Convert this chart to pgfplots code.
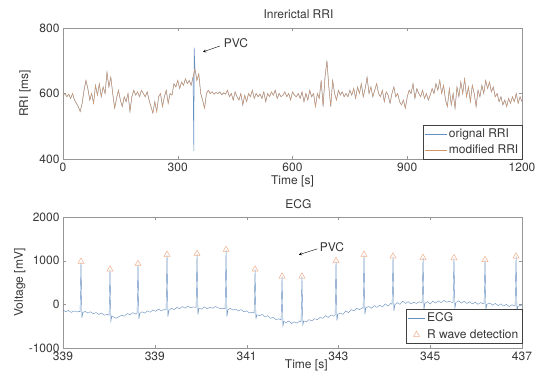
\documentclass[border=0pt]{standalone}
\usepackage{fontspec}
\setmainfont{TeX Gyre Heros}
\usepackage{pgfplots}
\pgfplotsset{compat=1.18}
\usepackage{pgfplotstable}
\definecolor{ecgblue}{RGB}{100,142,190}
\definecolor{rriorange}{RGB}{212,150,105}
\definecolor{trior}{RGB}{240,175,140}
\definecolor{axgray}{RGB}{150,150,150}
\definecolor{txgray}{RGB}{55,55,55}

\pgfplotstableread{
t rri
0 595
5 600
10 590
15 598
20 585
25 600
30 580
35 570
40 560
45 545
50 570
55 610
60 640
65 615
70 580
75 600
80 570
85 625
90 595
95 630
100 590
105 620
110 600
115 665
120 620
125 650
130 600
135 555
140 585
145 610
150 580
155 560
160 590
165 575
170 600
175 545
180 590
185 610
190 595
195 605
200 590
205 610
210 600
215 590
220 605
225 580
230 560
235 540
240 575
245 545
250 590
255 600
260 560
265 590
270 610
275 570
280 600
285 595
290 630
295 620
300 640
305 615
310 635
315 625
320 645
325 630
330 640
335 625
340 650
345 675
350 640
355 660
360 600
365 580
370 555
375 600
380 610
385 600
390 605
395 598
400 603
405 600
410 605
415 596
420 602
425 598
430 610
435 590
440 600
445 580
450 605
455 590
460 580
465 600
470 565
475 595
480 575
485 600
490 590
495 610
500 585
505 600
510 590
515 598
520 585
525 605
530 575
535 600
540 590
545 605
550 595
555 610
560 585
565 600
570 590
575 595
580 605
585 590
590 600
595 580
600 605
605 595
610 590
615 600
620 585
625 605
630 575
635 600
640 580
645 610
650 590
655 600
660 560
665 600
670 585
675 640
680 560
685 650
690 700
695 620
700 560
705 640
710 600
715 580
720 610
725 595
730 605
735 590
740 600
745 590
750 610
755 595
760 615
765 585
770 620
775 600
780 630
785 590
790 615
795 650
800 600
805 620
810 590
815 610
820 630
825 600
830 590
835 610
840 575
845 605
850 595
855 570
860 600
865 620
870 590
875 600
880 575
885 565
890 580
895 555
900 590
905 610
910 600
915 630
920 585
925 615
930 600
935 590
940 610
945 585
950 600
955 580
960 595
965 615
970 600
975 630
980 610
985 640
990 600
995 625
1000 580
1005 560
1010 615
1015 565
1020 600
1025 555
1030 620
1035 590
1040 635
1045 600
1050 645
1055 590
1060 620
1065 575
1070 625
1075 600
1080 560
1085 610
1090 590
1095 625
1100 600
1105 640
1110 615
1115 635
1120 605
1125 620
1130 590
1135 600
1140 575
1145 590
1150 565
1155 580
1160 560
1165 585
1170 570
1175 590
1180 575
1185 600
1190 570
1195 590
1200 575
}\rri

\pgfplotstableread{
t v
0.00 -130
0.03 -170
0.06 -140
0.09 -185
0.12 -150
0.15 -175
0.18 -160
0.186 -170
0.196 980
0.206 -310
0.216 -190
0.24 -160
0.27 -200
0.30 -170
0.33 -215
0.36 -190
0.39 -230
0.42 -200
0.45 -250
0.48 -230
0.502 -250
0.512 800
0.522 -380
0.532 -270
0.55 -290
0.58 -320
0.61 -280
0.64 -250
0.67 -270
0.70 -210
0.73 -240
0.76 -190
0.79 -220
0.807 -200
0.817 930
0.827 -330
0.837 -210
0.86 -170
0.89 -200
0.92 -150
0.95 -180
0.98 -130
1.01 -160
1.04 -110
1.07 -150
1.10 -120
1.123 -130
1.133 1140
1.143 -280
1.153 -140
1.18 -90
1.21 -120
1.24 -70
1.27 -100
1.30 -50
1.33 -90
1.36 -40
1.39 -80
1.42 -60
1.450 -70
1.460 1160
1.470 -230
1.480 -90
1.51 -110
1.54 -60
1.57 -100
1.60 -70
1.63 -90
1.66 -50
1.69 -80
1.72 -100
1.75 -90
1.766 -100
1.776 1250
1.786 -280
1.796 -130
1.82 -90
1.85 -130
1.88 -110
1.91 -150
1.94 -120
1.97 -170
2.00 -150
2.03 -200
2.06 -180
2.082 -200
2.092 800
2.102 -330
2.112 -240
2.14 -260
2.17 -230
2.20 -290
2.23 -260
2.26 -320
2.29 -300
2.32 -350
2.35 -330
2.376 -360
2.386 640
2.396 -500
2.406 -390
2.43 -420
2.46 -380
2.49 -440
2.52 -400
2.55 -430
2.58 -380
2.593 -400
2.603 640
2.613 -470
2.623 -380
2.65 -400
2.68 -350
2.71 -380
2.74 -330
2.77 -350
2.80 -300
2.83 -320
2.86 -260
2.89 -300
2.92 -240
2.95 -270
2.964 -250
2.974 1000
2.984 -370
2.994 -230
3.02 -200
3.05 -230
3.08 -150
3.11 -190
3.14 -120
3.17 -150
3.20 -90
3.23 -120
3.26 -80
3.269 -90
3.279 1140
3.289 -230
3.299 -80
3.33 -50
3.36 -90
3.39 -30
3.42 -70
3.45 -20
3.48 -60
3.51 10
3.54 -40
3.57 20
3.585 0
3.595 1100
3.605 -150
3.615 -10
3.64 40
3.67 0
3.70 70
3.73 20
3.76 60
3.79 10
3.82 50
3.85 20
3.88 60
3.912 30
3.922 1070
3.932 -120
3.942 20
3.97 60
4.00 10
4.03 70
4.06 30
4.09 80
4.12 40
4.15 90
4.18 50
4.21 70
4.24 40
4.249 50
4.259 1060
4.269 -100
4.279 40
4.31 80
4.34 30
4.37 70
4.40 20
4.43 60
4.46 10
4.49 50
4.52 0
4.55 40
4.58 10
4.587 20
4.597 1020
4.607 -130
4.617 0
4.65 30
4.68 -20
4.71 20
4.74 -30
4.77 10
4.80 -40
4.83 0
4.86 -50
4.89 -10
4.92 -40
4.925 -30
4.935 1100
4.945 -170
4.955 -50
4.98 -20
5.00 -40
}\ecg

\pgfplotstableread{
t v
0.196 980
0.512 800
0.817 930
1.133 1140
1.460 1160
1.776 1250
2.092 800
2.386 640
2.603 640
2.974 1000
3.279 1140
3.595 1100
3.922 1070
4.259 1060
4.597 1020
4.935 1100
}\rwave

\pgfplotsset{
  myaxis/.style={
    scale only axis, width=459pt, height=131pt,
    axis line style={axgray},
    tick style={axgray},
    tick align=inside,
    major tick length=3pt,
    xtick pos=both, ytick pos=both,
    font=\fontsize{12}{14}\selectfont,
    tick label style={txgray, font=\fontsize{12}{14}\selectfont},
    /pgf/number format/assume math mode=true,
    /pgf/number format/1000 sep={},
    label style={txgray},
    title style={txgray},
    legend style={draw=black!75, font=\fontsize{12}{14}\selectfont, text=txgray,
      inner sep=1.5pt, row sep=2pt},
    legend cell align=left,
  }
}

\begin{document}
\begin{tikzpicture}
\useasboundingbox (-63pt,-343pt) rectangle (480pt,28pt);
\begin{axis}[myaxis,
  at={(0pt,0pt)}, anchor=north west,
  xmin=0, xmax=1200, ymin=400, ymax=800,
  xtick={0,300,600,900,1200}, ytick={400,600,800},
  title={Inrerictal RRI},
  title style={at={(axis description cs:0.513,1.061)}, anchor=center},
  xlabel={Time [s]},
  xlabel style={at={(axis description cs:0.5,-0.168)}, anchor=center},
  ylabel={RRI [ms]},
  ylabel style={at={(axis description cs:-0.083,0.5)}, anchor=center},
  legend style={at={(axis description cs:1,0)}, anchor=south east},
  legend image code/.code={\draw[#1] (0pt,0pt) -- (22pt,0pt);},
]
\addplot[ecgblue, line width=0.4pt] table[x=t,y=rri] {\rri};
\addlegendentry{orignal RRI}
\addplot[ecgblue, line width=0.5pt, forget plot] coordinates {(340,650) (342,425) (343,740) (345,675)};
\addplot[rriorange, line width=0.45pt] table[x=t,y=rri] {\rri};
\addlegendentry{modified RRI}
\draw[-stealth, black] (axis cs:410,745) -- (axis cs:366,727);
\node[txgray, anchor=center, font=\fontsize{12}{14}\selectfont] at (axis cs:452,754) {PVC};
\end{axis}

\begin{axis}[myaxis,
  at={(0pt,-189pt)}, anchor=north west,
  xmin=0, xmax=5, ymin=-1000, ymax=2000,
  xtick={0,1,2,3,4,5}, xticklabels={339,339,341,343,345,437},
  ytick={-1000,0,1000,2000},
  title={ECG},
  title style={at={(axis description cs:0.513,1.053)}, anchor=center},
  xlabel={Time [s]},
  xlabel style={at={(axis description cs:0.53,-0.13)}, anchor=center},
  ylabel={Voltage [mV]},
  ylabel style={at={(axis description cs:-0.094,0.5)}, anchor=center},
  legend style={at={(axis description cs:1,0.035)}, anchor=south east},
]
\addplot[ecgblue, line width=0.4pt] table[x=t,y=v] {\ecg};
\addlegendentry{ECG}
\addplot[only marks, mark=triangle, mark size=3.5pt, mark options={trior, line width=0.5pt}] table[x=t,y=v] {\rwave};
\addlegendentry{R wave detection}
\draw[-stealth, black] (axis cs:2.77,1270) -- (axis cs:2.57,1136);
\node[txgray, anchor=center, font=\fontsize{12}{14}\selectfont] at (axis cs:2.93,1318) {PVC};
\end{axis}
\end{tikzpicture}
\end{document}
